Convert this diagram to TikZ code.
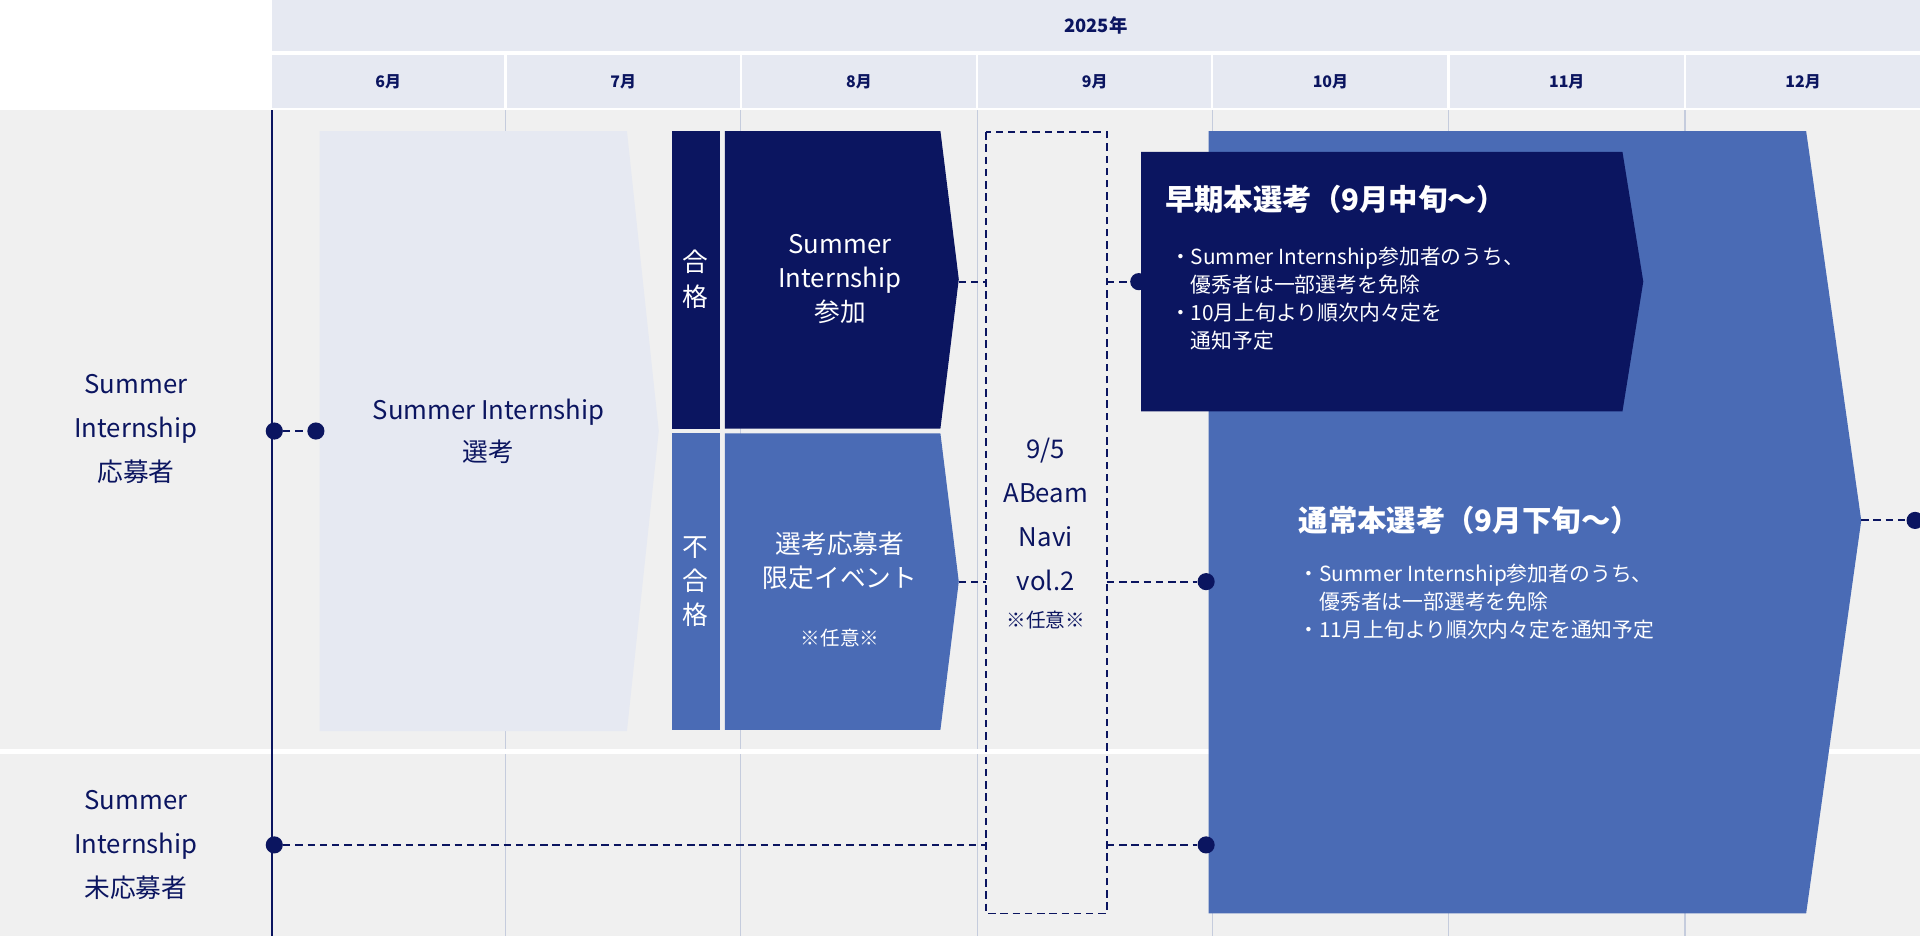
\documentclass[tikz,border=0pt]{standalone}
\usepackage{fontspec}
\setmainfont{Noto Sans CJK JP}
\definecolor{navy}{HTML}{0B1560}
\definecolor{mblue}{HTML}{4A6BB5}
\definecolor{lgray}{HTML}{E6E9F2}
\definecolor{bg}{HTML}{F0F0F0}
\definecolor{grid}{HTML}{C5CCDD}
\begin{document}
\begin{tikzpicture}[x=1pt,y=-1pt,
  mon/.style={font=\bfseries\fontsize{13}{15}\selectfont,text=navy},
  dline/.style={draw=navy,line width=1.6pt,dash pattern=on 6pt off 4pt},
  dot/.style={circle,fill=navy,inner sep=0pt,minimum size=14pt},
  wt/.style={text=white,align=center,font=\fontsize{21}{28}\selectfont},
  bl/.style={text=white,align=left,font=\fontsize{17}{23}\selectfont,anchor=north west}]
\useasboundingbox (0,0) rectangle (1568,764);
\fill[white] (0,0) rectangle (1568,764);
\fill[lgray] (222,0) rectangle (1568,42);
\node[mon,font=\bfseries\fontsize{15}{17}\selectfont] (yr) at (895,21) {2025年};
\foreach \a/\b/\m in {222/412/6,414/604/7,606/797/8,799/989/9,991/1182/10,1184/1375/11,1377/1568/12}{
  \fill[lgray] (\a,45) rectangle (\b,88);
  \node[mon] at ({(\a+\b)/2},67) {\m 月};
}
\fill[bg] (0,90) rectangle (1568,764);
\foreach \x in {413,605,798,990,1183,1376} \draw[grid,line width=1pt] (\x,90) -- (\x,764);
\fill[white] (0,612) rectangle (1568,616);
\draw[navy,line width=1.5pt] (222,90) -- (222,764);
\node[text=navy,align=center,font=\fontsize{21}{36}\selectfont] (l1) at (111,350) {Summer\\Internship\\応募者};
\node[text=navy,align=center,font=\fontsize{21}{36}\selectfont] (l2) at (111,690) {Summer\\Internship\\未応募者};
% selection
\fill[lgray] (261,107) -- (512,107) -- (538,352) -- (512,597) -- (261,597) -- cycle;
\node[text=navy,align=center,font=\fontsize{21}{34}\selectfont] (sel) at (399,352) {Summer Internship\\選考};
\node[dot] (d1) at (224,352) {}; \node[dot] (d2) at (258,352) {};
\draw[dline] (d1) -- (d2);
% pass
\fill[navy] (549,107) rectangle (588,350);
\fill[navy] (592,107) -- (768,107) -- (783,228) -- (768,350) -- (592,350) -- cycle;
\node[wt] (p1) at (568,228) {合\\格};
\node[wt] (p2) at (686,228) {Summer\\Internship\\参加};
\fill[mblue] (549,354) rectangle (588,596);
\fill[mblue] (592,354) -- (768,354) -- (783,475) -- (768,596) -- (592,596) -- cycle;
\node[wt] (f1) at (568,475) {不\\合\\格};
\node[wt] (f2) at (686,458) {選考応募者\\限定イベント};
\node[wt,font=\fontsize{16}{20}\selectfont] (f3) at (686,521) {※任意※};
% navi
\draw[dline] (805,108) rectangle (904,746);
\node[text=navy,align=center,font=\fontsize{21}{36}\selectfont] (nv) at (854,420) {9/5\\ABeam\\Navi\\vol.2};
\node[text=navy,font=\fontsize{16}{20}\selectfont] (nv2) at (854,506) {※任意※};
% big
\fill[mblue] (987,107) -- (1475,107) -- (1520,425) -- (1475,746) -- (987,746) -- cycle;
\fill[navy] (932,124) -- (1325,124) -- (1342,230) -- (1325,336) -- (932,336) -- cycle;
\node[text=white,anchor=west,font=\bfseries\fontsize{24}{28}\selectfont] (e1) at (948,163) {早期本選考（9月中旬～）};
\node[bl] (e2) at (952,198) {・Summer Internship参加者のうち、\\\hspace*{1em}優秀者は一部選考を免除\\・10月上旬より順次内々定を\\\hspace*{1em}通知予定};
\node[text=white,anchor=west,font=\bfseries\fontsize{24}{28}\selectfont] (n1) at (1057,425) {通常本選考（9月下旬～）};
\node[bl] (n2) at (1057,457) {・Summer Internship参加者のうち、\\\hspace*{1em}優秀者は一部選考を免除\\・11月上旬より順次内々定を通知予定};
% connectors
\coordinate (a1) at (783,230); \coordinate (a2) at (805,230); \coordinate (a3) at (904,230);
\node[dot] (e0) at (930,230) {};
\draw[dline] (a1) -- (a2); \draw[dline] (a3) -- (e0);
\coordinate (b1) at (783,475); \coordinate (b2) at (805,475); \coordinate (b3) at (904,475);
\node[dot] (n0) at (985,475) {};
\draw[dline] (b1) -- (b2); \draw[dline] (b3) -- (n0);
\node[dot] (c0) at (224,690) {}; \coordinate (c2) at (805,690); \coordinate (c3) at (904,690);
\node[dot] (c4) at (985,690) {};
\draw[dline] (c0) -- (c2); \draw[dline] (c3) -- (c4);
\coordinate (r1) at (1520,425); \node[dot] (r2) at (1564,425) {};
\draw[dline] (r1) -- (r2);
\end{tikzpicture}
\end{document}
